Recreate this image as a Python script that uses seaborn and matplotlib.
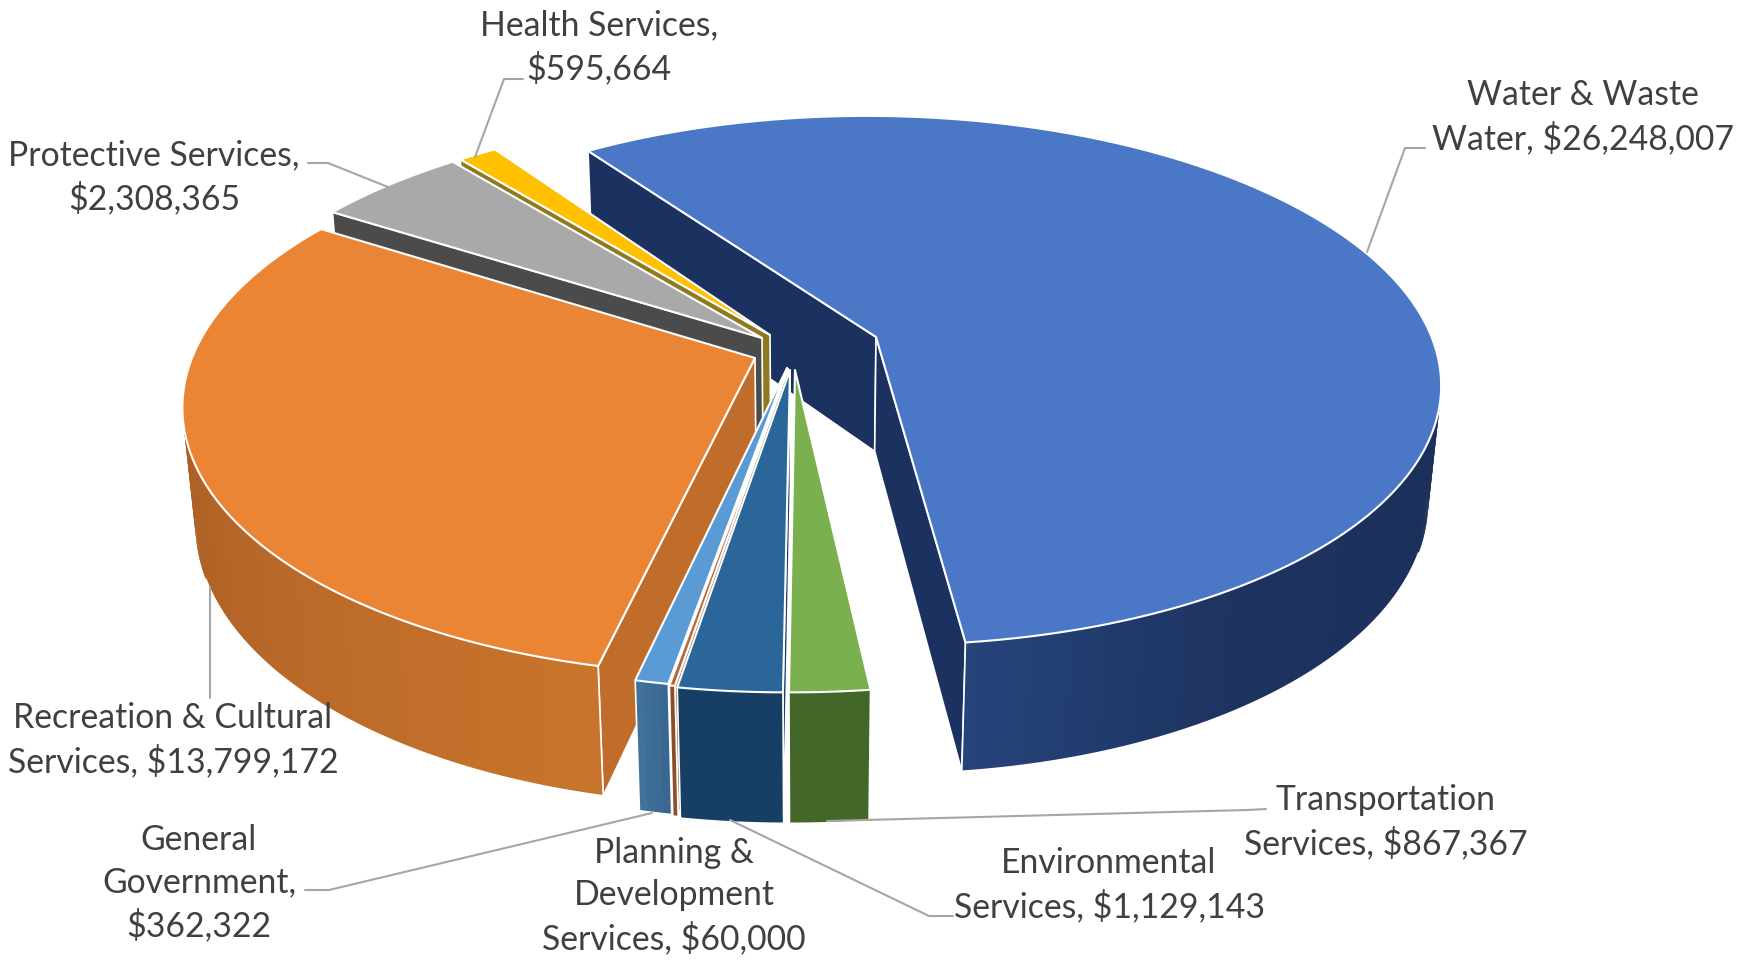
"""Exploded 3-D pie of capital spending by service area."""
import numpy as np
import matplotlib
matplotlib.use("Agg")
import matplotlib.pyplot as plt
import seaborn as sns
from matplotlib.patches import Polygon

categories = ["Water & Waste Water", "Transportation Services", "Environmental Services",
              "Planning & Development Services", "General Government",
              "Recreation & Cultural Services", "Protective Services", "Health Services"]
values = [26248007, 867367, 1129143, 60000, 362322, 13799172, 2308365, 595664]
label_heads = [["Water & Waste", "Water, "], ["Transportation", "Services, "],
               ["Environmental", "Services, "], ["Planning &", "Development", "Services, "],
               ["General", "Government,", ""], ["Recreation & Cultural", "Services, "],
               ["Protective Services,", ""], ["Health Services,", ""]]

top_colors = ["#4a78c6", "#7ab04d", "#2a6699", "#b5693a", "#5b9bd5", "#ea8535", "#a9a9a9", "#ffc000"]
face_colors = ["#1b3260", "#426728", "#173f66", "#8a4f28", "#3f6f98", "#c06d2c", "#4b4b4b", "#8f7a20"]
rim_shades = [["#1c305c", "#1c305c", "#1d335f", "#26437a"], ["#426728", "#426728"], ["#173f66", "#173f66"],
              ["#8a4f28", "#8a4f28"], ["#41729c", "#39678f"], ["#a85c24", "#c8742c"],
              ["#4b4b4b", "#4b4b4b"], ["#8f7a20", "#8f7a20"]]

# where each slice tip sits on the page (explosion), and the label anchors
tips = [(876, 337), (795, 370), (790, 370), (788, 369), (787, 368), (755, 358), (762, 338), (770, 335)]
label_pos = [(1583, 117), (1386, 822), (1109, 885), (674, 896), (199, 883), (173, 740), (154, 177), (599, 47)]
leaders = [[(1425, 148), (1405, 148), (1367, 252)],
           [(1266, 809), (1247, 810), (827, 821)],
           [(953, 916), (929, 916), (730, 820)],
           None,
           [(305, 890), (329, 890), (652, 813)],
           [(210, 698), (210, 587)],
           [(308, 163), (328, 163), (388, 187)],
           [(523, 79), (504, 79), (475, 157)]]

# camera
CX, CY = 810, 337
TILT = np.radians(27.6)
DIST = 5.4
FOCAL = 3000
HEIGHT = 0.237
FIRST_ANGLE = -34.9


def project(x, y, z=0.0):
    s, c = np.sin(TILT), np.cos(TILT)
    depth = DIST + y * c - z * s
    return CX + FOCAL * x / depth, CY - FOCAL * (y * s + z * c) / depth


def unproject(px, py):
    s, c = np.sin(TILT), np.cos(TILT)
    v = (CY - py) / FOCAL
    y = v * DIST / (s - v * c)
    return (px - CX) * (DIST + y * c) / FOCAL, y


def add_poly(ax, pts, fc, ec="none", lw=0.0, closed=True):
    ax.add_patch(Polygon(np.column_stack(pts), closed=closed, facecolor=fc, edgecolor=ec,
                         linewidth=lw, joinstyle="round"))


def draw_slice(ax, start, end, tip, top, face, shades):
    x0, y0 = unproject(*tip)
    phi = np.radians(np.linspace(start, end, max(int((end - start) * 2), 4)))
    xs, ys = x0 + np.sin(phi), y0 + np.cos(phi)
    edge = "white"

    def wall(ang):
        x1, y1 = x0 + np.sin(ang), y0 + np.cos(ang)
        a, b = project(x0, y0), project(x1, y1)
        d, e = project(x1, y1, -HEIGHT), project(x0, y0, -HEIGHT)
        return [a[0], b[0], d[0], e[0]], [a[1], b[1], d[1], e[1]]

    # radial walls, only the ones turned towards us
    for ang, normal in ((phi[0], phi[0] - np.pi / 2), (phi[-1], phi[-1] + np.pi / 2)):
        if np.cos(normal) < 0:
            add_poly(ax, wall(ang), face, edge, 1.2)

    # outer rim, cut in strips for the gradient; each strip overlaps the next so no seams show
    front = np.cos(phi) < -0.05
    if front.sum() > 1:
        fx, fy = xs[front], ys[front]
        n = len(fx) - 1
        grad = sns.blend_palette(shades, n)
        if start > 180:
            grad = grad[::-1]
            seq = range(n - 1, -1, -1)
        else:
            seq = range(n)
        for i in seq:
            j0, j1 = (i, min(i + 2, n)) if start <= 180 else (max(i - 1, 0), i + 1)
            tx, ty = project(fx[j0:j1 + 1], fy[j0:j1 + 1])
            bx, by = project(fx[j0:j1 + 1], fy[j0:j1 + 1], -HEIGHT)
            add_poly(ax, (np.r_[tx, bx[::-1]], np.r_[ty, by[::-1]]), grad[i])
        # white edge: bottom arc past the silhouette, side edges only at real corners
        low = np.cos(phi) < -0.35
        if low.sum() > 1:
            bx, by = project(xs[low], ys[low], -HEIGHT)
            tx, ty = project(xs[low], ys[low])
            px_, py_ = list(bx), list(by)
            if low[0]:
                px_, py_ = [tx[0]] + px_, [ty[0]] + py_
            if low[-1]:
                px_, py_ = px_ + [tx[-1]], py_ + [ty[-1]]
            add_poly(ax, (px_, py_), "none", edge, 1.2, closed=False)

    # top face
    rx, ry = project(xs, ys)
    ax0, ay0 = project(x0, y0)
    add_poly(ax, (np.r_[ax0, rx], np.r_[ay0, ry]), top, edge, 1.5)


sns.set_theme(style="white")
plt.rcParams["font.family"] = ["Lato", "DejaVu Sans"]

fig = plt.figure(figsize=(17.37, 9.6), dpi=100, facecolor="white")
ax = fig.add_axes([0, 0, 1, 1])
ax.set_xlim(0, 1737)
ax.set_ylim(960, 0)
ax.axis("off")

sweep = 360.0 * np.array(values) / np.sum(values)
starts = FIRST_ANGLE + np.r_[0, np.cumsum(sweep)[:-1]]
ends = starts + sweep

# painter's order: big blue slice at the back, then round the back to the front
for i in [0, 7, 6, 5, 4, 3, 2, 1]:
    draw_slice(ax, starts[i], ends[i], tips[i], top_colors[i], face_colors[i], rim_shades[i])

for line in leaders:
    if line is not None:
        lx, ly = zip(*line)
        ax.plot(lx, ly, color="#a6a6a6", lw=1.5, solid_joinstyle="miter")

for head, val, (tx, ty) in zip(label_heads, values, label_pos):
    lines = list(head)
    lines[-1] = lines[-1] + f"${val:,}"
    ax.text(tx, ty, "\n".join(lines), ha="center", va="center", color="#404040",
            fontsize=24.3, linespacing=1.38)

fig.savefig("out.png", dpi=100, facecolor="white")
